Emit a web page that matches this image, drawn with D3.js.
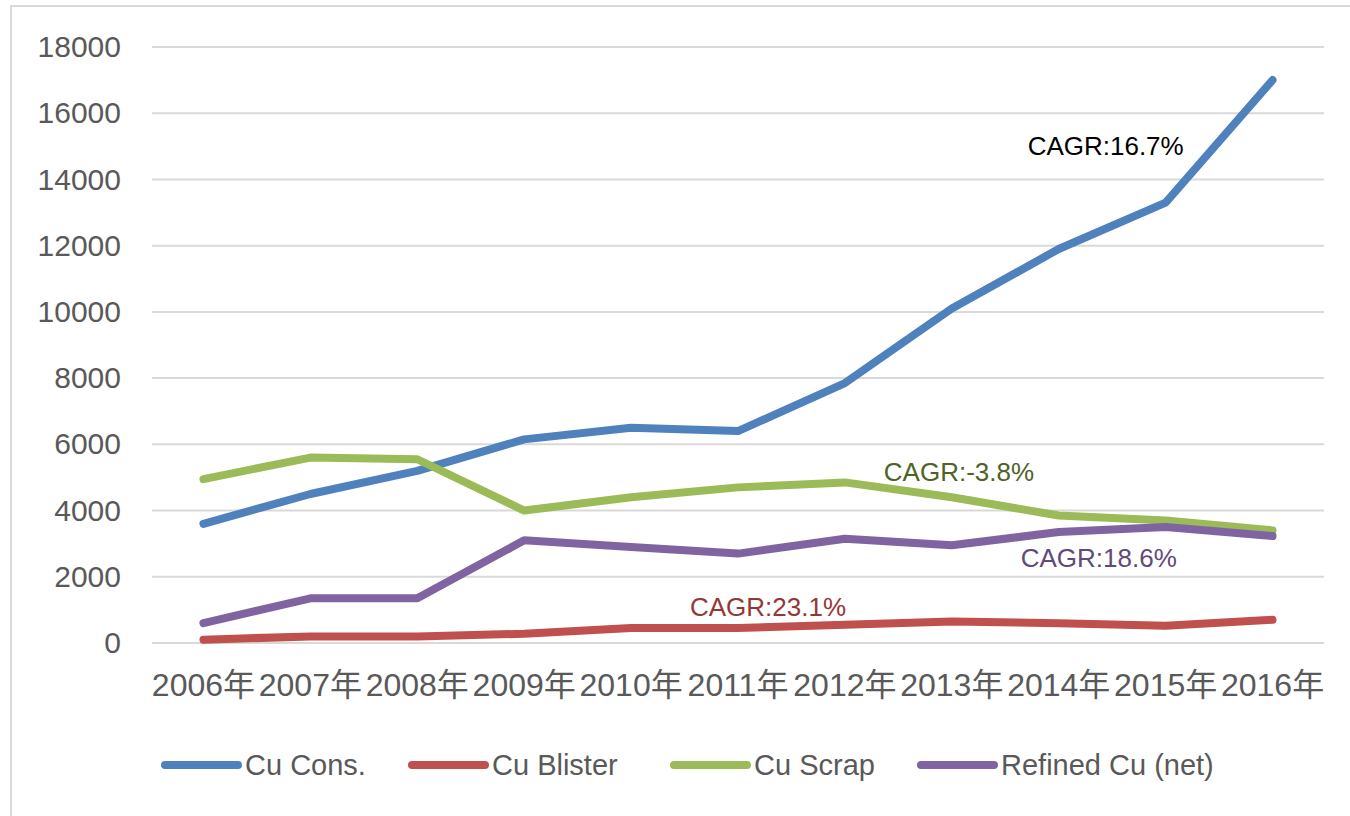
<!DOCTYPE html>
<html><head><meta charset="utf-8">
<script src="https://cdn.jsdelivr.net/npm/d3@7"></script>
<style>body{margin:0;background:#fff}svg{display:block}</style>
</head><body>
<svg id="chart" width="1350" height="816"></svg>
<script>
const years = ["2006年","2007年","2008年","2009年","2010年","2011年","2012年","2013年","2014年","2015年","2016年"];
const yTicks = [0,2000,4000,6000,8000,10000,12000,14000,16000,18000];
const cuCons    = [3600,4500,5200,6150,6500,6400,7850,10100,11900,13300,17000];
const cuBlister = [100,200,200,280,450,450,550,650,600,520,700];
const cuScrap   = [4950,5600,5550,4000,4400,4700,4850,4400,3850,3700,3400];
const refinedCu = [600,1350,1350,3100,2900,2700,3150,2950,3350,3500,3230];
const seriesNames = ["Cu Cons.","Cu Blister","Cu Scrap","Refined Cu (net)"];
const seriesColors = ["#4F81BD","#C0504D","#9BBB59","#8064A2"];
const annotations = [
  {text:"CAGR:16.7%", series:0, idx:9, color:"#000000"},
  {text:"CAGR:23.1%", series:1, idx:5, color:"#953735"},
  {text:"CAGR:-3.8%", series:2, idx:7, color:"#4F6228"},
  {text:"CAGR:18.6%", series:3, idx:8, color:"#604A7B"}
];

const seriesData = [cuCons, cuBlister, cuScrap, refinedCu];
const svg = d3.select("#chart");

// outer frame
svg.append("rect").attr("x",11).attr("y",6).attr("width",1400).attr("height",900)
  .attr("fill","none").attr("stroke","#d9d9d9").attr("stroke-width",2);

const x = d3.scaleBand().domain(years).range([150,1326]);
const y = d3.scaleLinear().domain([0,18000]).range([643,47]);

// gridlines
svg.append("g").selectAll("line").data(yTicks).join("line")
  .attr("x1",152).attr("x2",1324)
  .attr("y1",d=>y(d)).attr("y2",d=>y(d))
  .attr("stroke","#d9d9d9").attr("stroke-width",2);

// y axis labels
const yAxis = d3.axisLeft(y).tickValues(yTicks).tickSize(0).tickPadding(0).tickFormat(d3.format("d"));
const gy = svg.append("g").attr("transform","translate(121,0)").call(yAxis);
gy.select(".domain").remove();
gy.selectAll("text").attr("font-family","'Liberation Sans', Arial, sans-serif")
  .attr("font-size",30).attr("fill","#595959");

// x axis labels
const xAxis = d3.axisBottom(x).tickSize(0).tickPadding(0);
const gx = svg.append("g").attr("transform","translate(0,673)").call(xAxis);
gx.select(".domain").remove();
gx.selectAll("text").attr("font-family","'Liberation Sans', 'Noto Sans CJK SC', sans-serif")
  .attr("font-size",32).attr("fill","#595959");

// lines
const line = d3.line().x((d,i)=>x(years[i])+x.bandwidth()/2).y(d=>y(d));
svg.append("g").selectAll("path").data(seriesData).join("path")
  .attr("d",d=>line(d)).attr("fill","none")
  .attr("stroke",(d,i)=>seriesColors[i]).attr("stroke-width",8)
  .attr("stroke-linecap","round").attr("stroke-linejoin","round");

// annotations
const annPos = {0:[-138,-48],1:[-48,-12],2:[-68,-16],3:[-38,35]};
svg.append("g").selectAll("text").data(annotations).join("text")
  .attr("x",d=>x(years[d.idx])+x.bandwidth()/2+annPos[d.series][0])
  .attr("y",d=>y(seriesData[d.series][d.idx])+annPos[d.series][1])
  .attr("font-family","'Liberation Sans', Arial, sans-serif")
  .attr("font-size",26).attr("fill",d=>d.color).text(d=>d.text);

// legend
const legX = [161,408,670,917];
const lg = svg.append("g").selectAll("g").data(seriesNames).join("g")
  .attr("transform",(d,i)=>`translate(${legX[i]},765)`);
lg.append("line").attr("x1",4).attr("x2",77).attr("y1",0).attr("y2",0)
  .attr("stroke",(d,i)=>seriesColors[i]).attr("stroke-width",8).attr("stroke-linecap","round");
lg.append("text").attr("x",84).attr("y",10)
  .attr("font-family","'Liberation Sans', Arial, sans-serif")
  .attr("font-size",29).attr("fill","#595959").text(d=>d);
</script>
</body></html>
